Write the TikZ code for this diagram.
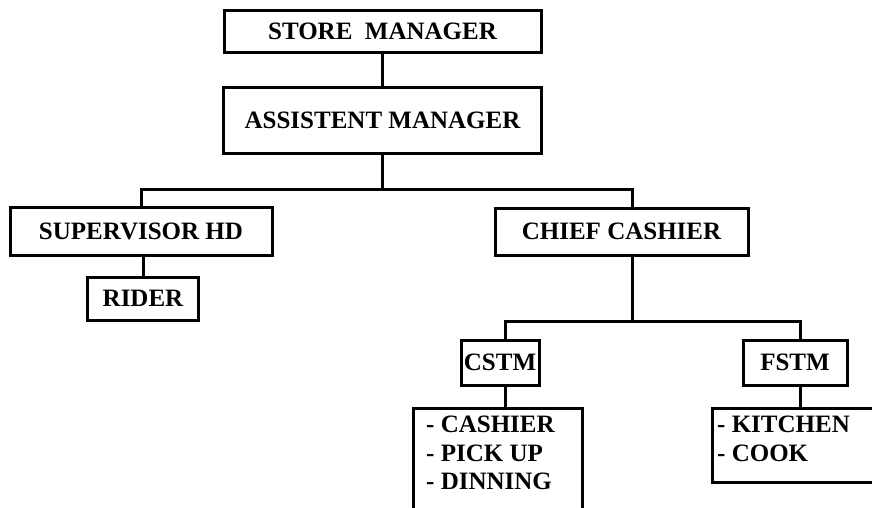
\documentclass[tikz,border=0pt]{standalone}
\usepackage{fontspec}
\setmainfont{Liberation Serif}
\begin{document}
\begin{tikzpicture}[x=1pt,y=-1pt,
  lbl/.style={font=\fontsize{25}{28.5}\selectfont\bfseries},
  box/.style={draw, line width=3pt, rectangle, inner sep=0pt, lbl},
  conn/.style={line width=3pt}]
\useasboundingbox (0,0) rectangle (872,507);
\clip (0,0) rectangle (872,507);
\node[box, minimum width=317pt, minimum height=42pt] (sm) at (382.5,31) {STORE\ \ MANAGER};
\node[box, minimum width=318pt, minimum height=66pt] (am) at (382.5,120) {ASSISTENT MANAGER};
\node[box, minimum width=262pt, minimum height=48pt] (sv) at (141,231) {SUPERVISOR HD};
\node[box, minimum width=111pt, minimum height=43pt] (rd) at (143,298.5) {RIDER};
\node[box, minimum width=253pt, minimum height=47pt] (cc) at (621.5,231.5) {CHIEF CASHIER};
\node[box, minimum width=78pt, minimum height=45pt] (cs) at (500,362.5) {CSTM};
\node[box, minimum width=104pt, minimum height=45pt] (fs) at (795,362.5) {FSTM};
\node[box, minimum width=169pt, minimum height=130pt] (cl) at (497.5,473) {};
\node[box, minimum width=178pt, minimum height=74pt] (kl) at (801,445) {};
\node[lbl, align=left, anchor=north west, inner sep=0pt] (clt) at (426,416) {- CASHIER\\- PICK UP\\- DINNING};
\node[lbl, align=left, anchor=north west, inner sep=0pt] (klt) at (717,416) {- KITCHEN\\- COOK};
\draw[conn] (sm.south) -- (am.north);
\draw[conn] (am.south) -- ++(0,35) coordinate (j1);
\draw[conn] (j1) -| (sv.north);
\draw[conn] (j1) -| ([xshift=10.5pt]cc.north);
\draw[conn] (rd.north) -- (sv.south -| rd.north);
\draw[conn] ([xshift=10.5pt]cc.south) -- ++(0,65) coordinate (j2);
\draw[conn] (j2) -| ([xshift=5pt]cs.north);
\draw[conn] (j2) -| ([xshift=5pt]fs.north);
\draw[conn] ([xshift=5pt]cs.south) -- ([xshift=5pt]cs.south |- cl.north);
\draw[conn] ([xshift=5pt]fs.south) -- ([xshift=5pt]fs.south |- kl.north);
\end{tikzpicture}
\end{document}
